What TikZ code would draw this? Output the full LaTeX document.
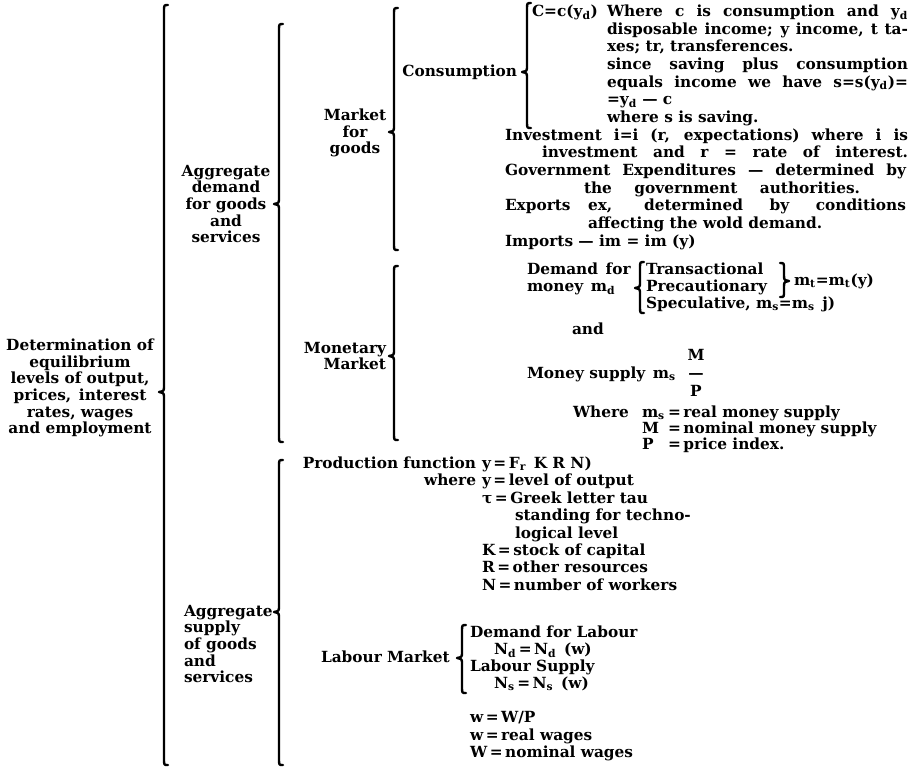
\documentclass[tikz,border=0pt]{standalone}
\usepackage{fontspec}
\setmainfont{DejaVu Serif}
\newlength\pxu
\setlength\pxu{0.75pt}
\newcommand\sbs[1]{\textsubscript{#1}}
\newcommand\jb[2]{\makebox[#1\pxu][s]{#2}}
% left curly brace: x, top, bottom, tip
\newcommand\lbrc[4]{%
  \draw[brc] (#1+4,#2) .. controls (#1,#2) .. (#1,#2+6) -- (#1,#4-6)
    .. controls (#1,#4-1) .. (#1-5,#4) .. controls (#1,#4+1) .. (#1,#4+6)
    -- (#1,#3-6) .. controls (#1,#3) .. (#1+4,#3);}
% right curly brace: x, top, bottom, tip
\newcommand\rbrc[4]{%
  \draw[brc] (#1-4,#2) .. controls (#1,#2) .. (#1,#2+6) -- (#1,#4-6)
    .. controls (#1,#4-1) .. (#1+5,#4) .. controls (#1,#4+1) .. (#1,#4+6)
    -- (#1,#3-6) .. controls (#1,#3) .. (#1-4,#3);}
\begin{document}
\begin{tikzpicture}[x=0.75pt,y=-0.75pt,
  brc/.style={line width=1.8pt,line join=round,line cap=round},
  t/.style={inner sep=0pt,outer sep=0pt,anchor=base west,font=\bfseries\fontsize{11.5}{13}\selectfont},
  blk/.style={inner sep=0pt,outer sep=0pt,font=\bfseries\fontsize{11.5}{12.45}\selectfont}]
\fill[white] (0,0) rectangle (912,769);
\useasboundingbox (0,0) rectangle (912,769);

% ---------- left column ----------
\node[blk,align=center] (det) at (80,388) {Determination of\\equilibrium\\levels of output,\\prices,\enspace interest\\rates, wages\\and employment};
\lbrc{164}{5}{765}{392}

\node[blk,align=center] (ad) at (226,204) {Aggregate\\demand\\for goods\\and\\services};
\lbrc{279}{24}{442}{204}

\node[blk,align=left,anchor=west] (as) at (184,644) {Aggregate\\supply\\of goods\\and\\services};
\lbrc{279}{460}{765}{612}

% ---------- market for goods ----------
\node[blk,align=center] (mg) at (355,133) {Market\\for\\goods};
\lbrc{394}{8}{250}{132}

\node[t,anchor=base east] (cons) at (517,76.5) {Consumption};
\lbrc{527}{3}{128}{72}

\node[t] (cc) at (532,16.5) {C=c(y\sbs{d})};
\node[t] (c1) at (607,16.5) {\jb{301}{Where c is consumption and y\sbs{d}}};
\node[t] (c2) at (607,34.2) {\jb{301}{disposable income; y income, t ta-}};
\node[t] (c3) at (607,51.8) {xes; tr, transferences.};
\node[t] (c4) at (607,69.5) {\jb{301}{since saving plus consumption}};
\node[t] (c5) at (607,87.1) {\jb{301}{equals income we have s=s(y\sbs{d})=}};
\node[t] (c6) at (607,104.8) {=y\sbs{d} --- c};
\node[t] (c7) at (607,122.4) {where s is saving.};
\node[t] (inv1) at (505,140.1) {\jb{403}{Investment i=i (r, expectations) where i is}};
\node[t] (inv2) at (542,157.7) {\jb{366}{investment and r = rate of interest.}};
\node[t] (gov1) at (505,175.4) {\jb{401}{Government Expenditures --- determined by}};
\node[t] (gov2) at (584,193) {\jb{276}{the government authorities.}};
\node[t] (exp1) at (505,210.7) {Exports};
\node[t] (exp2) at (588,210.7) {\jb{318}{ex, determined by conditions}};
\node[t] (exp3) at (588,228.3) {affecting the wold demand.};
\node[t] (imp) at (505,246) {Imports --- im = im (y)};

% ---------- monetary market ----------
\node[blk,align=right,anchor=east] (mm) at (386,356) {Monetary\\Market};
\lbrc{394}{266}{440}{356}

\node[t] (dm1) at (527,274.5) {Demand\enspace for};
\node[t] (dm2) at (527,291.5) {money\enspace m\sbs{d}};
\lbrc{640}{262}{313}{288}
\node[t] (tr) at (646,274.5) {Transactional};
\node[t] (pr) at (646,291.5) {Precautionary};
\node[t] (spc) at (646,308.5) {Speculative, m\sbs{s}=m\sbs{s}\enspace j)};
\rbrc{784}{263}{297}{281}
\node[t] (mt) at (794,285) {m\sbs{t}=m\sbs{t}(y)};
\node[t] (and) at (572,334.5) {and};
\node[t,anchor=base] (fm) at (696,360.5) {M};
\node[t] (msu) at (527,378.5) {Money supply\enspace m\sbs{s}};
\node[t,anchor=base] (fb) at (696,378.5) {---};
\node[t,anchor=base] (fp) at (696,396.5) {P};
\node[t] (wh) at (573,417.5) {Where};
\node[t] (r1a) at (642,417.5) {m\sbs{s}};
\node[t] (r1b) at (668,417.5) {=\,real money supply};
\node[t] (r2a) at (642,433.5) {M};
\node[t] (r2b) at (668,433.5) {=\,nominal money supply};
\node[t] (r3a) at (642,449.5) {P};
\node[t] (r3b) at (668,449.5) {=\,price index.};

% ---------- production ----------
\node[t,anchor=base east] (pf) at (476,468.5) {Production function};
\node[t] (pf2) at (482,468.5) {y\,=\,F\sbs{r}\enspace K R N)};
\node[t,anchor=base east] (whr) at (476,485.9) {where};
\node[t] (p1) at (482,485.9) {y\,=\,level of output};
\node[t] (p2) at (482,503.3) {\char"03C4\,=\,Greek letter tau};
\node[t] (p3) at (515,520.7) {standing for techno-};
\node[t] (p4) at (515,538.1) {logical level};
\node[t] (p5) at (482,555.5) {K\,=\,stock of capital};
\node[t] (p6) at (482,572.9) {R\,=\,other resources};
\node[t] (p7) at (482,590.3) {N\,=\,number of workers};

% ---------- labour ----------
\node[t] (lm) at (321,662.5) {Labour Market};
\lbrc{462}{625}{693}{658}
\node[t] (dl) at (470,637.5) {Demand for Labour};
\node[t] (nd) at (494,654.5) {N\sbs{d}\,=\,N\sbs{d}\enspace(w)};
\node[t] (ls) at (470,671.5) {Labour Supply};
\node[t] (ns) at (494,688.5) {N\sbs{s}\,=\,N\sbs{s}\enspace(w)};
\node[t] (w1) at (470,722.5) {w\,=\,W/P};
\node[t] (w2) at (470,740) {w\,=\,real wages};
\node[t] (w3) at (470,757.5) {W\,=\,nominal wages};
\end{tikzpicture}
\end{document}
